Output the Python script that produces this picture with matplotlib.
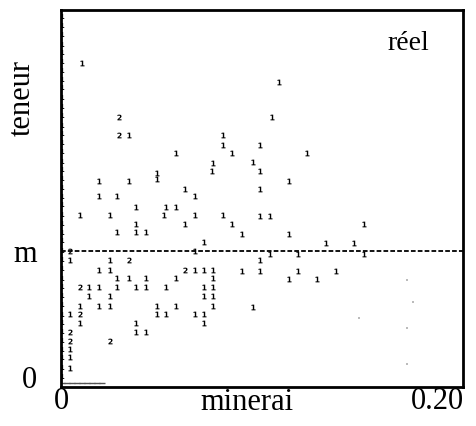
import matplotlib

matplotlib.use("Agg")
import matplotlib.pyplot as plt
import matplotlib.transforms as mtransforms

# --- 데이터 (minerai, teneur) : teneur는 m = 1 기준 ---
ones_x = [0.011, 0.036, 0.086, 0.086, 0.061, 0.091, 0.081, 0.080, 0.051, 0.051,
          0.020, 0.036, 0.066, 0.071, 0.020, 0.030,
          0.040, 0.056, 0.061, 0.010, 0.026, 0.055, 0.071, 0.086, 0.091, 0.040,
          0.066, 0.030, 0.040, 0.045, 0.076, 0.071, 0.005, 0.026, 0.020, 0.026,
          0.071, 0.076, 0.081, 0.030, 0.036, 0.045, 0.061, 0.081, 0.015, 0.020,
          0.030, 0.040, 0.045, 0.056, 0.076, 0.081, 0.015, 0.026, 0.076, 0.081,
          0.010, 0.020, 0.026, 0.051, 0.061, 0.081, 0.005, 0.051, 0.056, 0.071,
          0.076, 0.010, 0.040, 0.076, 0.040, 0.045, 0.005, 0.005, 0.005,
          0.116, 0.112, 0.106, 0.131, 0.102, 0.106, 0.121, 0.106, 0.106, 0.111,
          0.161, 0.096, 0.121, 0.141, 0.156, 0.111, 0.126, 0.161, 0.106, 0.096,
          0.106, 0.126, 0.146, 0.121, 0.136, 0.102]
ones_y = [2.41, 1.87, 1.87, 1.80, 1.74, 1.74, 1.66, 1.60, 1.59, 1.54,
          1.53, 1.53, 1.47, 1.41, 1.41, 1.41,
          1.33, 1.33, 1.33, 1.27, 1.27, 1.27, 1.27, 1.27, 1.20, 1.20,
          1.20, 1.14, 1.14, 1.14, 1.07, 1.00, 0.93, 0.93, 0.86, 0.86,
          0.86, 0.86, 0.86, 0.80, 0.80, 0.80, 0.80, 0.80, 0.73, 0.73,
          0.73, 0.73, 0.73, 0.73, 0.73, 0.73, 0.66, 0.66, 0.66, 0.66,
          0.59, 0.59, 0.59, 0.59, 0.59, 0.59, 0.53, 0.53, 0.53, 0.53,
          0.53, 0.46, 0.46, 0.46, 0.39, 0.39, 0.26, 0.20, 0.12,
          2.27, 2.01, 1.80, 1.74, 1.67, 1.60, 1.53, 1.47, 1.26, 1.26,
          1.20, 1.13, 1.13, 1.06, 1.06, 0.98, 0.98, 0.98, 0.93, 0.85,
          0.85, 0.85, 0.85, 0.79, 0.79, 0.58]

twos_x = [0.031, 0.031, 0.005, 0.036, 0.066, 0.010, 0.010, 0.005, 0.026, 0.005]
twos_y = [2.01, 1.87, 1.00, 0.93, 0.86, 0.73, 0.53, 0.39, 0.32, 0.32]

# minerai = 0 인 시료들 (왼쪽 축을 따라)
edge_y = [2.77, 2.70, 2.63, 2.56, 2.50, 2.43, 2.36, 2.29, 2.23, 2.16, 2.09,
          2.02, 1.95, 1.89, 1.82, 1.75, 1.68, 1.62, 1.55, 1.48, 1.41, 1.35,
          1.28, 1.21, 1.14, 1.08, 1.01, 0.94, 0.87, 0.80, 0.74, 0.67, 0.60,
          0.53, 0.47, 0.40, 0.33, 0.26, 0.20, 0.13, 0.06]
# teneur = 0 인 시료들 (아래 축을 따라)
zero_x = [0.0005, 0.0032, 0.0059, 0.0085, 0.0112, 0.0138, 0.0165, 0.0191, 0.0218]
# 흐릿한 점들
faint_x = [0.184, 0.187, 0.1585, 0.184, 0.184]
faint_y = [0.78, 0.62, 0.50, 0.42, 0.15]

m_level = 1.0

plt.rcParams["font.family"] = ["Liberation Serif", "DejaVu Serif"]

fig = plt.figure(figsize=(4.77, 4.26), dpi=100)
ax = fig.add_axes([0.128, 0.0915, 0.843, 0.885])

ax.scatter(ones_x, ones_y, marker=r"$\mathbf{1}$", s=17, color="black", linewidths=0)
ax.scatter(twos_x, twos_y, marker=r"$\mathbf{2}$", s=17, color="black", linewidths=0)
ax.scatter([0.0006] * len(edge_y), edge_y, marker=r"$\mathbf{1}$", s=13, color="black", linewidths=0)
ax.scatter(zero_x, [0.008] * len(zero_x), marker="_", s=14, color="#555555", linewidths=1.0)
ax.scatter(faint_x, faint_y, marker="s", s=2, color="#bbbbbb", linewidths=0)

ax.axhline(m_level, color="black", linewidth=1.3, linestyle=(0, (2.6, 1.2)))

ax.set_xlim(0, 0.2138)
ax.set_ylim(-0.0226, 2.812)
ax.set_xticks([0, 0.2])
ax.set_xticklabels(["0", "0.20"])
ax.set_yticks([0, m_level])
ax.set_yticklabels(["0", "m"])
ax.tick_params(length=0, labelsize=22)
ax.tick_params(axis="y", pad=17)
ax.tick_params(axis="x", pad=0)

# "0" 라벨은 축 바닥보다 살짝 위에 찍혀 있음
lab0 = ax.get_yticklabels()[0]
lab0.set_transform(lab0.get_transform() + mtransforms.ScaledTranslation(0, 5 / 72, fig.dpi_scale_trans))

ax.set_xlabel("minerai", fontsize=22)
ax.xaxis.set_label_coords(0.463, -0.003)
ax.set_ylabel("teneur", fontsize=22)
ax.yaxis.set_label_coords(-0.06, 0.767)

ax.text(0.863, 0.91, "réel", transform=ax.transAxes, fontsize=20, ha="center", va="center")

for sp in ax.spines.values():
    sp.set_linewidth(2.0)

fig.savefig("out.png", dpi=100)
plt.close(fig)
